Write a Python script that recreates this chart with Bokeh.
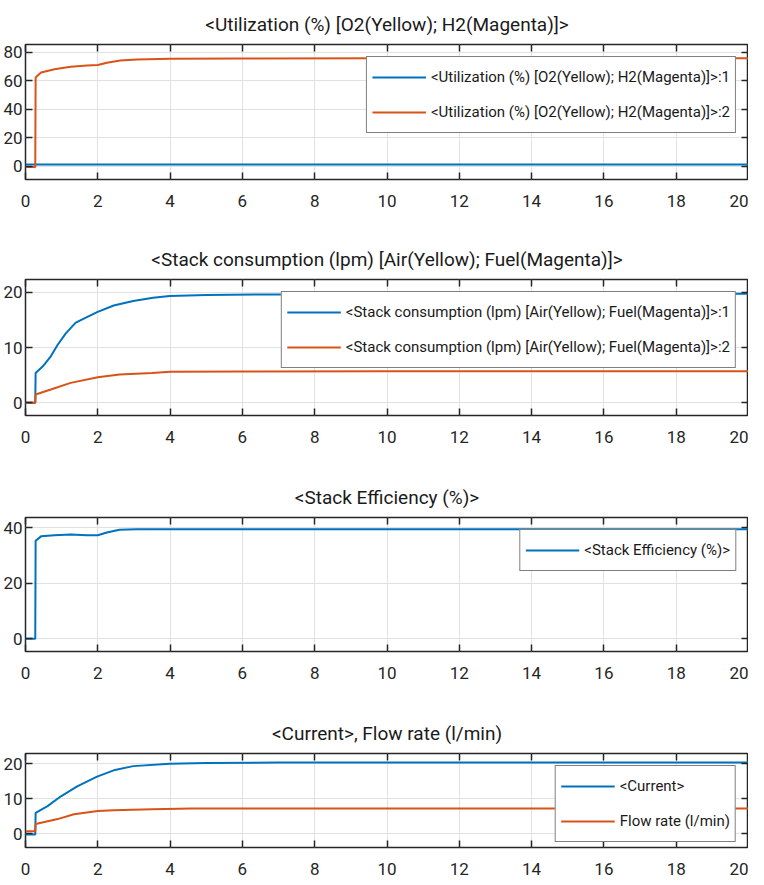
from bokeh.plotting import figure
from bokeh.layouts import column
from bokeh.models import LinearAxis, Legend, LegendItem, Range1d, FixedTicker
from bokeh.embed import file_html
from bokeh.resources import INLINE

FONT = "Roboto"
BLUE = "#0072BD"
ORANGE = "#D95319"

x_ticks = [0, 2, 4, 6, 8, 10, 12, 14, 16, 18, 20]

# ---- Plot 1: Utilization ----
util_title = "<Utilization (%) [O2(Yellow); H2(Magenta)]>"
util_labels = ["<Utilization (%) [O2(Yellow); H2(Magenta)]>:1",
               "<Utilization (%) [O2(Yellow); H2(Magenta)]>:2"]
t_util_o2 = [0, 0.27, 0.28, 2.0, 5.0, 10.0, 20.0]
util_o2 = [1.3, 1.3, 1.3, 1.3, 1.3, 1.3, 1.3]
t_util_h2 = [0, 0.27, 0.28, 0.43, 0.8, 1.25, 1.7, 2.0, 2.25, 2.62, 3.08, 4.0, 6.0, 10.0, 20.0]
util_h2 = [-0.5, -0.5, 62.2, 65.7, 68.0, 69.8, 70.7, 71.0, 72.6, 74.2, 74.9, 75.4, 75.6, 75.7, 75.7]
util_yticks = [0, 20, 40, 60, 80]

# ---- Plot 2: Stack consumption ----
cons_title = "<Stack consumption (lpm) [Air(Yellow); Fuel(Magenta)]>"
cons_labels = ["<Stack consumption (lpm) [Air(Yellow); Fuel(Magenta)]>:1",
               "<Stack consumption (lpm) [Air(Yellow); Fuel(Magenta)]>:2"]
t_cons_air = [0, 0.27, 0.28, 0.48, 0.7, 0.89, 1.12, 1.39, 1.98, 2.44, 2.98, 3.53, 3.99, 5.0, 7.0, 10.0, 20.0]
cons_air = [0, 0, 5.4, 6.6, 8.4, 10.5, 12.6, 14.5, 16.4, 17.6, 18.4, 19.0, 19.3, 19.5, 19.6, 19.7, 19.7]
t_cons_fuel = [0, 0.27, 0.28, 0.7, 1.25, 2.0, 2.6, 3.5, 4.0, 6.0, 10.0, 20.0]
cons_fuel = [0, 0, 1.5, 2.4, 3.6, 4.6, 5.1, 5.4, 5.6, 5.65, 5.7, 5.7]
cons_yticks = [0, 10, 20]

# ---- Plot 3: Stack efficiency ----
eff_title = "<Stack Efficiency (%)>"
eff_labels = ["<Stack Efficiency (%)>"]
t_eff = [0, 0.27, 0.28, 0.43, 0.8, 1.25, 1.7, 2.0, 2.25, 2.6, 3.08, 5.0, 10.0, 20.0]
eff = [0, 0, 35.3, 36.9, 37.3, 37.6, 37.3, 37.3, 38.3, 39.3, 39.5, 39.5, 39.5, 39.5]
eff_yticks = [0, 20, 40]

# ---- Plot 4: Current and flow rate ----
cur_title = "<Current>, Flow rate (l/min)"
cur_labels = ["<Current>", "Flow rate (l/min)"]
t_cur = [0, 0.27, 0.28, 0.61, 0.98, 1.43, 1.98, 2.44, 2.98, 3.99, 5.0, 7.0, 10.0, 20.0]
current = [-0.2, -0.2, 6.0, 7.9, 10.7, 13.5, 16.3, 18.1, 19.3, 20.0, 20.2, 20.3, 20.3, 20.3]
t_flow = [0, 0.27, 0.28, 0.89, 1.34, 2.0, 2.44, 3.5, 4.6, 7.0, 10.0, 20.0]
flow = [0.7, 0.7, 2.8, 4.2, 5.6, 6.5, 6.7, 7.0, 7.2, 7.2, 7.2, 7.2]
cur_yticks = [0, 10, 20]


def style_axis(ax, ticks, show_labels):
    ax.ticker = FixedTicker(ticks=ticks)
    ax.axis_line_color = None
    ax.major_tick_in = 7
    ax.major_tick_out = 0
    ax.major_tick_line_color = "#262626"
    ax.major_tick_line_width = 1.5
    ax.minor_tick_line_color = None
    ax.axis_label_standoff = 0
    if show_labels:
        ax.major_label_text_font = FONT
        ax.major_label_text_font_size = "17px"
        ax.major_label_text_color = "#262626"
    else:
        ax.major_label_text_color = None
        ax.major_label_text_font_size = "0px"
        ax.major_label_standoff = 0


def make_fig(title, ylim, yticks, height, top, bottom):
    p = figure(width=748, height=height, output_backend="svg", toolbar_location=None,
               x_range=Range1d(0, 20), y_range=Range1d(*ylim),
               min_border_left=21, min_border_right=0,
               min_border_top=top, min_border_bottom=bottom)
    p.title.text = title
    p.title.align = "center"
    p.title.text_font = FONT
    p.title.text_font_size = "19px"
    p.title.text_font_style = "normal"
    p.title.text_color = "#1a1a1a"
    p.title.standoff = 18
    p.outline_line_color = "#262626"
    p.outline_line_width = 1.5
    p.background_fill_color = "white"
    p.border_fill_color = "white"
    style_axis(p.xaxis[0], x_ticks, True)
    p.xaxis[0].major_label_standoff = 15
    style_axis(p.yaxis[0], yticks, True)
    p.yaxis[0].major_label_standoff = 3
    top_ax = LinearAxis()
    right_ax = LinearAxis()
    p.add_layout(top_ax, "above")
    p.add_layout(right_ax, "right")
    style_axis(top_ax, x_ticks, False)
    style_axis(right_ax, yticks, False)
    p.xgrid.ticker = FixedTicker(ticks=x_ticks)
    p.ygrid.ticker = FixedTicker(ticks=yticks)
    p.grid.grid_line_color = "#e1e1e1"
    p.grid.grid_line_width = 1
    return p


def add_legend(p, items):
    leg = Legend(items=items, location="top_right")
    leg.margin = 12
    leg.label_text_font = FONT
    leg.label_text_font_size = "15px"
    leg.label_text_color = "#1a1a1a"
    leg.glyph_width = 54
    leg.glyph_height = 30
    leg.label_height = 30
    leg.label_standoff = 5
    leg.padding = 5
    leg.spacing = 5
    leg.border_line_color = "black"
    leg.border_line_width = 1
    leg.background_fill_alpha = 1
    p.add_layout(leg, "center")


p1 = make_fig(util_title, (-9.3, 85.4), util_yticks, 215, 44, 36)
r1a = p1.line(t_util_o2, util_o2, line_color=BLUE, line_width=2)
r1b = p1.line(t_util_h2, util_h2, line_color=ORANGE, line_width=2)
add_legend(p1, [LegendItem(label=util_labels[0], renderers=[r1a]),
                LegendItem(label=util_labels[1], renderers=[r1b])])

p2 = make_fig(cons_title, (-2.3, 22.3), cons_yticks, 236, 64, 36)
r2a = p2.line(t_cons_air, cons_air, line_color=BLUE, line_width=2)
r2b = p2.line(t_cons_fuel, cons_fuel, line_color=ORANGE, line_width=2)
add_legend(p2, [LegendItem(label=cons_labels[0], renderers=[r2a]),
                LegendItem(label=cons_labels[1], renderers=[r2b])])

p3 = make_fig(eff_title, (-4.6, 43.7), eff_yticks, 236, 66, 36)
r3a = p3.line(t_eff, eff, line_color=BLUE, line_width=2)
add_legend(p3, [LegendItem(label=eff_labels[0], renderers=[r3a])])

p4 = make_fig(cur_title, (-3.9, 22.9), cur_yticks, 190, 66, 28)
r4a = p4.line(t_cur, current, line_color=BLUE, line_width=2)
r4b = p4.line(t_flow, flow, line_color=ORANGE, line_width=2)
add_legend(p4, [LegendItem(label=cur_labels[0], renderers=[r4a]),
                LegendItem(label=cur_labels[1], renderers=[r4b])])

layout = column(p1, p2, p3, p4, spacing=0)
open("out.html", "w").write(file_html(layout, INLINE))
